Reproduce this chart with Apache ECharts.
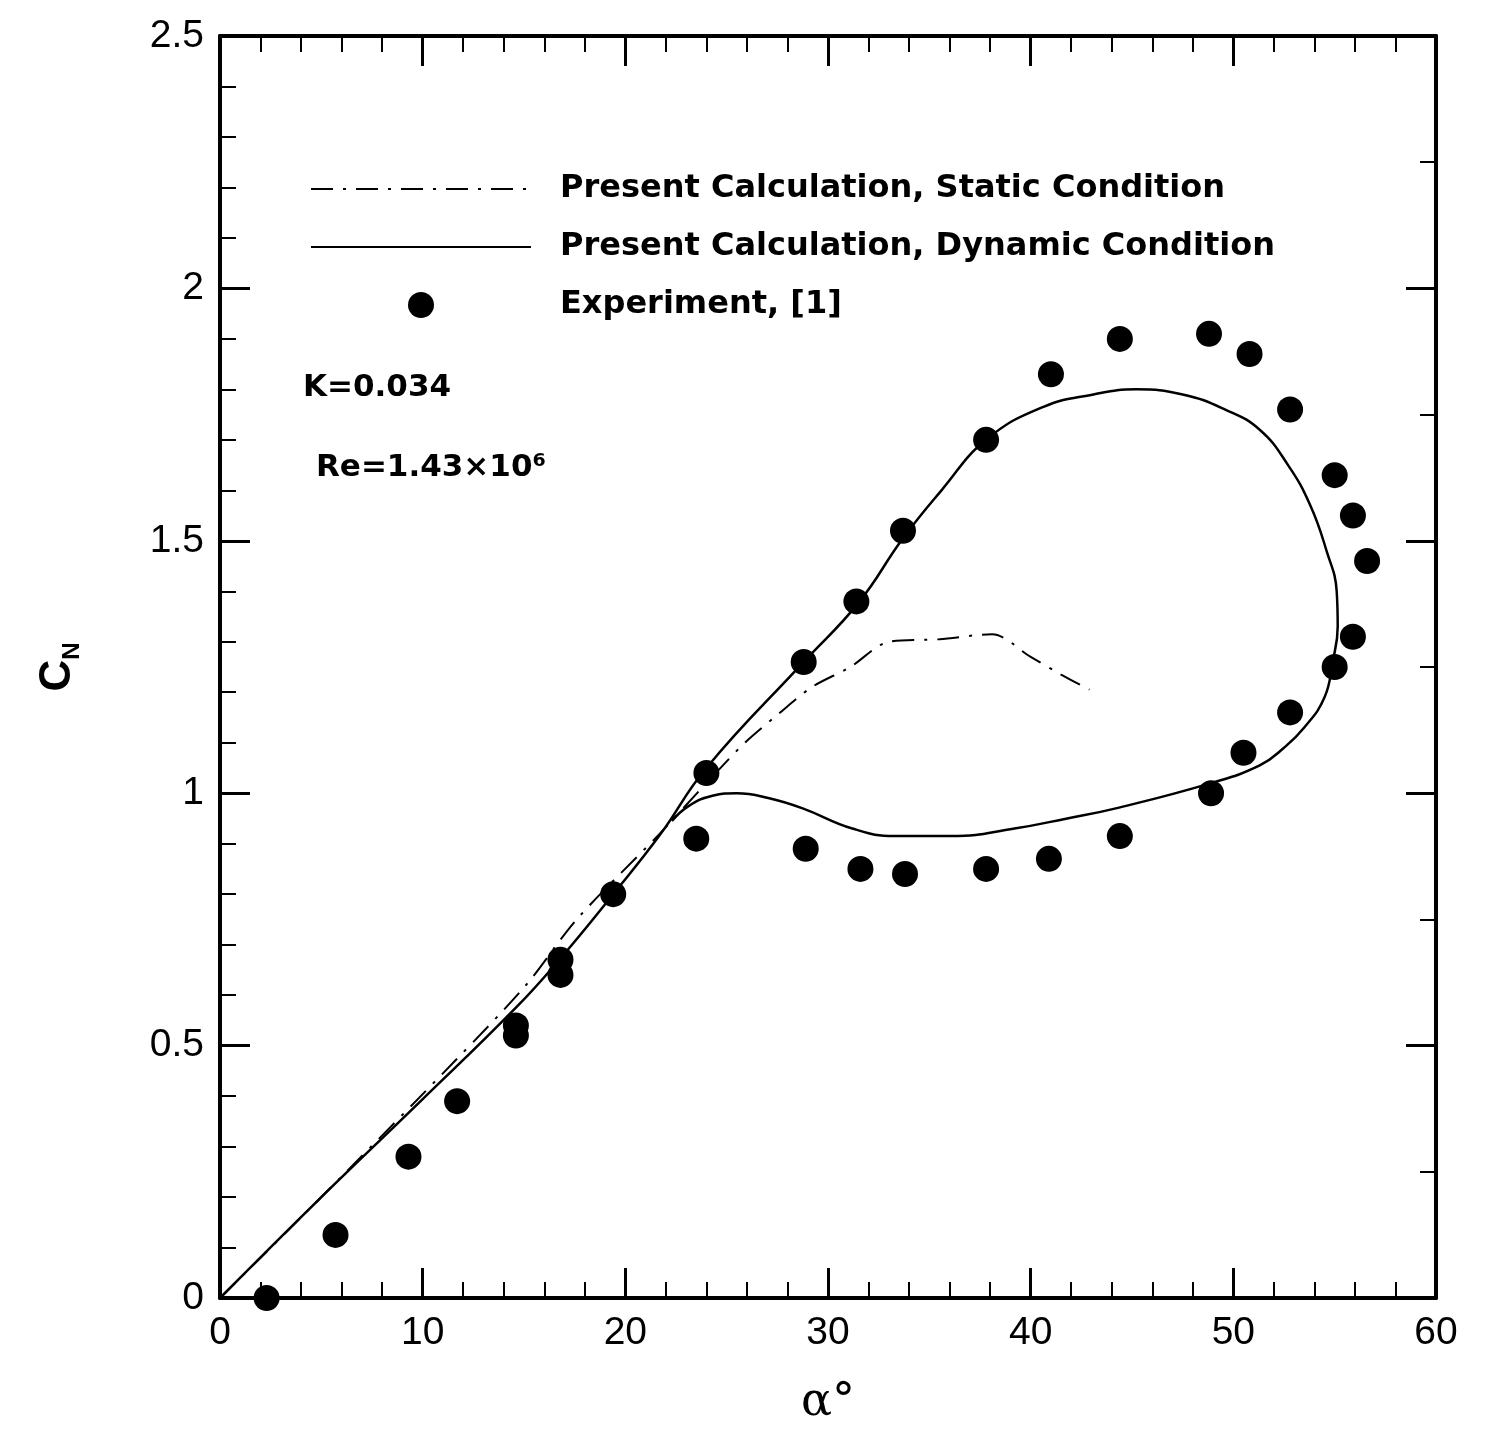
<!DOCTYPE html>
<html>
<head>
<meta charset="utf-8">
<script src="https://cdn.jsdelivr.net/npm/echarts@6/dist/echarts.min.js"></script>
<style>
html,body{margin:0;padding:0;background:#fff;}
#chart{width:1495px;height:1432px;}
</style>
</head>
<body>
<div id="chart"></div>
<script>
// ---- Data ----
// Static condition calculation: [alpha (deg), C_N]
var staticAlpha = [0, 5.0, 11.6, 15.1, 17.6, 21.7, 24.0, 25.9, 27.5, 29.2, 31.1, 33.0, 35.5, 38.1, 40.0, 41.5, 42.9];
var staticCN    = [0, 0.20, 0.47, 0.62, 0.75, 0.92, 1.02, 1.10, 1.155, 1.21, 1.25, 1.30, 1.305, 1.315, 1.27, 1.235, 1.205];

// Dynamic condition calculation (hysteresis loop, in drawing order)
var dynAlpha = [0, 5.0, 9.9, 14.6, 16.8, 19.4, 21.7, 24.0, 28.8, 31.5, 33.7, 35.6, 37.8, 40.6, 43.1, 45.2, 47.5, 49.6, 51.3, 52.7, 53.8, 54.6, 55.1, 55.15, 54.9, 54.5, 53.5, 52.5, 51.3, 48.9, 44.2, 41.8, 39.2, 36.1, 33.3, 31.2, 28.75, 27.1, 25.5, 24.3, 23.1, 22.3];
var dynCN    = [0, 0.20, 0.39, 0.575, 0.673, 0.80, 0.917, 1.05, 1.26, 1.377, 1.505, 1.60, 1.70, 1.765, 1.79, 1.80, 1.79, 1.76, 1.72, 1.65, 1.57, 1.48, 1.40, 1.33, 1.26, 1.19, 1.13, 1.09, 1.055, 1.02, 0.97, 0.95, 0.93, 0.915, 0.915, 0.93, 0.97, 0.99, 1.00, 0.995, 0.974, 0.945];

// Experiment [1]
var expAlpha = [2.3, 5.7, 9.3, 11.7, 14.6, 14.6, 16.8, 16.8, 19.4, 24.0, 23.5, 28.8, 31.4, 33.7, 37.8, 41.0, 44.4, 48.8, 50.8, 52.8, 55.0, 55.9, 56.6, 55.9, 55.0, 52.8, 50.5, 48.9, 44.4, 40.9, 37.8, 33.8, 31.6, 28.9];
var expCN    = [0.0, 0.125, 0.28, 0.39, 0.54, 0.52, 0.67, 0.64, 0.80, 1.04, 0.91, 1.26, 1.38, 1.52, 1.70, 1.83, 1.90, 1.91, 1.87, 1.76, 1.63, 1.55, 1.46, 1.31, 1.25, 1.16, 1.08, 1.00, 0.915, 0.87, 0.85, 0.84, 0.85, 0.89];

// Axis ticks
var xTickValues = [0, 10, 20, 30, 40, 50, 60];
var yTickValues = [0, 0.5, 1, 1.5, 2, 2.5];

var seriesNames = ['Present Calculation, Static Condition', 'Present Calculation, Dynamic Condition', 'Experiment, [1]'];

function zip(a, b) { return a.map(function (v, i) { return [v, b[i]]; }); }

var FONT = 'Liberation Sans';
var BOLDFONT = 'DejaVu Sans';
var chart = echarts.init(document.getElementById('chart'), null, {renderer: 'canvas'});

function xAx(pos, showLabel) {
  return {
    type: 'value', position: pos, min: xTickValues[0], max: xTickValues[xTickValues.length - 1],
    interval: xTickValues[1] - xTickValues[0],
    axisLine: {show: true, onZero: false, lineStyle: {color: '#000', width: 4}},
    axisTick: {show: true, inside: true, length: 30, lineStyle: {color: '#000', width: 3}},
    minorTick: {show: true, splitNumber: 5, length: 16, lineStyle: {color: '#000', width: 2}},
    splitLine: {show: false}, minorSplitLine: {show: false},
    axisLabel: {show: showLabel, fontSize: 39, color: '#000', fontFamily: FONT, margin: 16,
      formatter: function (v) { return String(v); }},
    name: showLabel ? 'α°' : '', nameLocation: 'middle', nameGap: 82,
    nameTextStyle: {fontSize: 46, color: '#000', fontFamily: 'DejaVu Serif'}
  };
}
function yAx(pos, showLabel, minorSplit) {
  return {
    type: 'value', position: pos, min: yTickValues[0], max: yTickValues[yTickValues.length - 1],
    interval: yTickValues[1] - yTickValues[0],
    axisLine: {show: true, onZero: false, lineStyle: {color: '#000', width: 4}},
    axisTick: {show: true, inside: true, length: 30, lineStyle: {color: '#000', width: 3}},
    minorTick: {show: true, splitNumber: minorSplit, length: 16, lineStyle: {color: '#000', width: 2}},
    splitLine: {show: false}, minorSplitLine: {show: false},
    axisLabel: {show: showLabel, fontSize: 39, color: '#000', fontFamily: FONT, margin: 16,
      formatter: function (v) { return String(v); }},
    name: showLabel ? '{c|C}{n|N}' : '', nameLocation: 'middle', nameGap: 140, nameRotate: 90,
    nameTextStyle: {color: '#000', rich: {
      c: {fontSize: 44, fontWeight: 'bold', fontFamily: FONT, color: '#000'},
      n: {fontSize: 24, fontWeight: 'bold', fontFamily: FONT, color: '#000', verticalAlign: 'bottom', padding: [0, 0, -4, 0]}
    }}
  };
}

var option = {
  backgroundColor: '#fff',
  animation: false,
  grid: {left: 220, right: 59, top: 36, bottom: 134, containLabel: false},
  xAxis: [xAx('bottom', true), xAx('top', false)],
  yAxis: [yAx('left', true, 5), yAx('right', false, 2)],
  legend: {
    orient: 'vertical', left: 305, top: 168, itemWidth: 220, itemHeight: 26, itemGap: 26,
    data: [
      {name: seriesNames[0], itemStyle: {opacity: 0}},
      {name: seriesNames[1], itemStyle: {opacity: 0}},
      {name: seriesNames[2], icon: 'circle'}
    ],
    textStyle: {fontSize: 32, fontWeight: 'bold', fontFamily: BOLDFONT, color: '#000', padding: [0, 0, 0, 24]}
  },
  graphic: [
    {type: 'text', left: 303, top: 372, style: {text: 'K=0.034', font: 'bold 31px "DejaVu Sans"', fill: '#000'}},
    {type: 'text', left: 316, top: 452, style: {text: 'Re=1.43×10⁶', font: 'bold 31px "DejaVu Sans"', fill: '#000'}}
  ],
  series: [
    {
      name: seriesNames[0], type: 'line', xAxisIndex: 0, yAxisIndex: 0,
      data: zip(staticAlpha, staticCN), showSymbol: false, symbol: 'none', smooth: 0.3,
      lineStyle: {color: '#000', width: 2, type: [22, 10, 3, 10]}, itemStyle: {color: '#000'}
    },
    {
      name: seriesNames[1], type: 'line', xAxisIndex: 0, yAxisIndex: 0,
      data: zip(dynAlpha, dynCN), showSymbol: false, symbol: 'none', smooth: 0.45,
      lineStyle: {color: '#000', width: 2.5, type: 'solid'}, itemStyle: {color: '#000'}
    },
    {
      name: seriesNames[2], type: 'scatter', xAxisIndex: 0, yAxisIndex: 0,
      data: zip(expAlpha, expCN), symbol: 'circle', symbolSize: 26,
      itemStyle: {color: '#000', opacity: 1}
    }
  ]
};
chart.setOption(option);
</script>
</body>
</html>
